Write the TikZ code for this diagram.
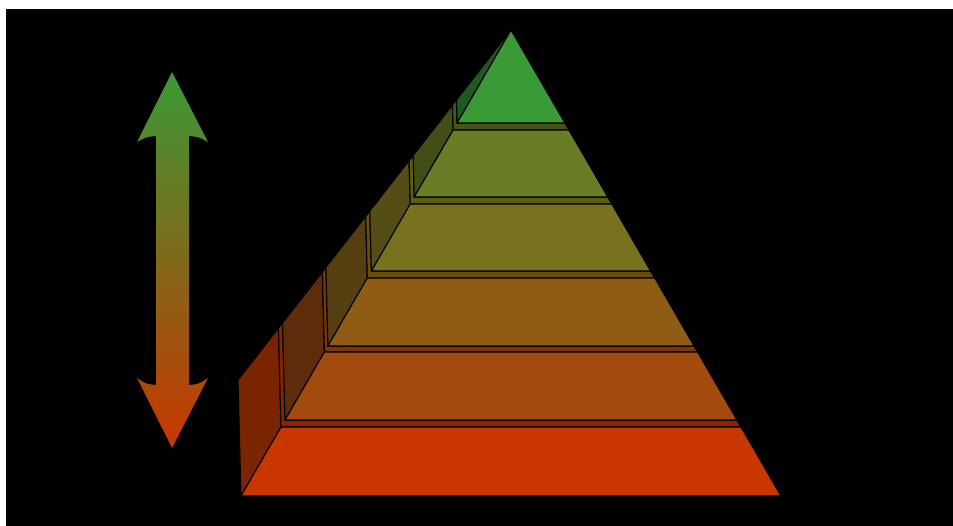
\documentclass[tikz,border=0pt]{standalone}

\definecolor{frontA}{RGB}{200,55,0}
\definecolor{frontB}{RGB}{163,74,14}
\definecolor{frontC}{RGB}{143,92,22}
\definecolor{frontD}{RGB}{120,113,32}
\definecolor{frontE}{RGB}{104,125,37}
\definecolor{frontF}{RGB}{58,154,53}
\definecolor{sideA}{RGB}{122,37,0}
\definecolor{sideB}{RGB}{94,44,10}
\definecolor{sideC}{RGB}{85,62,15}
\definecolor{sideD}{RGB}{84,78,22}
\definecolor{sideE}{RGB}{66,78,23}
\definecolor{sideF}{RGB}{30,90,32}
\definecolor{ledgeA}{RGB}{140,35,0}
\definecolor{ledgeB}{RGB}{122,55,8}
\definecolor{ledgeC}{RGB}{107,76,10}
\definecolor{ledgeD}{RGB}{92,92,18}
\definecolor{ledgeE}{RGB}{70,85,20}

\begin{document}
\begin{tikzpicture}[
  x=1pt,
  y=-1pt,
  face/.style={draw=black, line width=1.1pt, line join=round},
  front/.style={face, fill=#1},
  side/.style={face, fill=#1},
  ledge/.style={face, fill=#1}
]
  \useasboundingbox (0,0) rectangle (953,526);
  \fill[white] (0,0) rectangle (953,526);
  \fill[black] (6,9) rectangle (953,526);

  \shade[top color=frontF, middle color=frontD!80!frontC, bottom color=frontA]
    (172,72) -- (208,142) .. controls (199,137) .. (189,136) -- (189,385)
    .. controls (199,384) .. (208,378) -- (172,448) -- (137,378)
    .. controls (146,384) .. (156,385) -- (156,136)
    .. controls (146,137) .. (137,142) -- cycle;

  \draw[side=sideA] (241,496) -- (238,380) -- (278.4,328.2) -- (281,427) -- cycle;
  \draw[ledge=ledgeA] (278.4,328.2) -- (281,427) -- (741,427) -- (737,420) -- (285,420) -- (282.5,322.9) -- cycle;
  \draw[front=frontA] (241,496) -- (781,496) -- (741,427) -- (281,427) -- cycle;

  \draw[side=sideB] (285,420) -- (282.5,322.9) -- (322.4,271.9) -- (324.4,352) -- cycle;
  \draw[ledge=ledgeB] (322.4,271.9) -- (324.4,352) -- (697.6,352) -- (694.1,346) -- (327.9,346) -- (325.9,267.3) -- cycle;
  \draw[front=frontB] (285,420) -- (737,420) -- (697.6,352) -- (324.4,352) -- cycle;

  \draw[side=sideC] (327.9,346) -- (325.9,267.3) -- (365.7,216.3) -- (367.3,278) -- cycle;
  \draw[ledge=ledgeC] (365.7,216.3) -- (367.3,278) -- (654.7,278) -- (650.6,271) -- (371.4,271) -- (369.8,211) -- cycle;
  \draw[front=frontC] (327.9,346) -- (694.1,346) -- (654.7,278) -- (367.3,278) -- cycle;

  \draw[side=sideD] (371.4,271) -- (369.8,211) -- (409.1,160.7) -- (410.2,204) -- cycle;
  \draw[ledge=ledgeD] (409.1,160.7) -- (410.2,204) -- (611.8,204) -- (607.8,197) -- (414.2,197) -- (413.2,155.4) -- cycle;
  \draw[front=frontD] (371.4,271) -- (650.6,271) -- (611.8,204) -- (410.2,204) -- cycle;

  \draw[side=sideE] (414.2,197) -- (413.2,155.4) -- (452.4,105.1) -- (453.1,130) -- cycle;
  \draw[ledge=ledgeE] (452.4,105.1) -- (453.1,130) -- (568.9,130) -- (564.9,123) -- (457.1,123) -- (456.5,99.9) -- cycle;
  \draw[front=frontE] (414.2,197) -- (607.8,197) -- (568.9,130) -- (453.1,130) -- cycle;

  \draw[side=sideF] (457.1,123) -- (456.5,99.9) -- (511,30) -- cycle;
  \draw[front=frontF] (457.1,123) -- (564.9,123) -- (511,30) -- cycle;
\end{tikzpicture}
\end{document}
